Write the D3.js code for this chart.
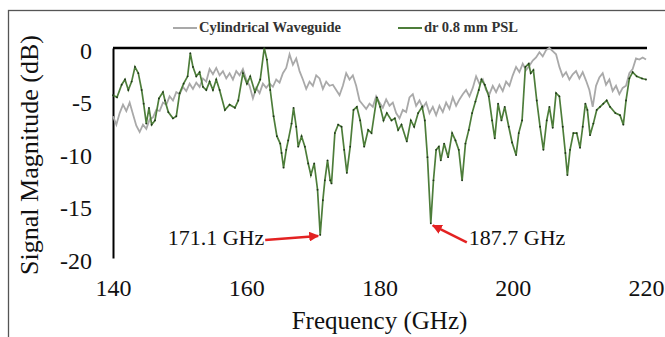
<!DOCTYPE html>
<html>
<head>
<meta charset="utf-8">
<script src="https://cdn.jsdelivr.net/npm/d3@7"></script>
<style>
  body { margin: 0; background: #fff; }
  svg { display: block; }
  svg text { font-family: 'Liberation Serif', 'DejaVu Serif', serif; }
</style>
</head>
<body>
<svg class="chart" width="665" height="337"></svg>
<script>
const seriesNames = ['Cylindrical Waveguide', 'dr 0.8 mm PSL'];
const xTicks = [140, 160, 180, 200, 220];
const yTicks = [0, -5, -10, -15, -20];
const annotations = [
  { label: '171.1 GHz', f: 171.1, db: -17.8 },
  { label: '187.7 GHz', f: 187.7, db: -16.7 }
];

// [frequency GHz, magnitude dB]
const waveguide = [
  [140.0, -6.5], [140.5, -7.3], [141.0, -6.2], [141.5, -5.4], [142.0, -6.0], [142.5, -5.2],
  [143.0, -6.3], [143.5, -7.4], [144.0, -8.0], [144.5, -7.3], [145.0, -7.7], [145.5, -6.8],
  [146.0, -6.6], [146.5, -5.9], [147.0, -6.0], [147.5, -5.2], [148.0, -5.4], [148.5, -4.6],
  [149.0, -5.0], [149.5, -4.2], [150.0, -4.4], [150.5, -3.7], [151.0, -4.1], [151.5, -3.4],
  [152.0, -3.9], [152.5, -3.3], [153.0, -3.7], [153.5, -2.9], [154.0, -3.2], [154.5, -2.0],
  [155.0, -2.5], [155.5, -1.9], [156.0, -2.6], [156.5, -2.2], [157.0, -2.9], [157.5, -2.4],
  [158.0, -3.0], [158.5, -2.2], [159.0, -2.6], [159.5, -2.0], [160.0, -3.0], [160.5, -3.6],
  [161.0, -4.8], [161.5, -3.8], [162.0, -4.3], [162.5, -3.4], [163.0, -3.8], [163.5, -3.4],
  [164.0, -3.7], [164.5, -3.0], [165.0, -3.3], [165.5, -2.4], [166.0, -1.9], [166.5, -0.6],
  [167.0, -1.6], [167.5, -1.0], [168.0, -2.2], [168.5, -3.0], [169.0, -3.9], [169.5, -3.2],
  [170.0, -3.6], [170.5, -2.6], [171.0, -2.9], [171.5, -3.9], [172.0, -3.2], [172.5, -3.6],
  [173.0, -3.5], [173.5, -4.0], [174.0, -4.5], [174.5, -3.6], [175.0, -2.4], [175.5, -3.0],
  [176.0, -2.6], [176.5, -3.6], [177.0, -5.0], [177.5, -5.4], [178.0, -5.8], [178.5, -5.3],
  [179.0, -5.6], [179.5, -4.6], [180.0, -5.2], [180.5, -5.7], [181.0, -4.9], [181.5, -5.5],
  [182.0, -5.2], [182.5, -6.2], [183.0, -6.7], [183.5, -5.9], [184.0, -6.1], [184.5, -4.7],
  [185.0, -4.4], [185.5, -5.5], [186.0, -5.0], [186.5, -5.7], [187.0, -5.2], [187.5, -6.2],
  [188.0, -5.6], [188.5, -6.4], [189.0, -5.5], [189.5, -6.1], [190.0, -5.2], [190.5, -5.8],
  [191.0, -4.7], [191.5, -5.5], [192.0, -4.9], [192.5, -4.4], [193.0, -4.0], [193.5, -4.6],
  [194.0, -3.8], [194.5, -2.7], [195.0, -3.4], [195.5, -3.0], [196.0, -4.0], [196.5, -4.4],
  [197.0, -3.6], [197.5, -4.2], [198.0, -3.5], [198.5, -4.1], [199.0, -3.2], [199.5, -3.6],
  [200.0, -2.6], [200.5, -1.8], [201.0, -2.3], [201.5, -1.5], [202.0, -2.1], [202.5, -1.7],
  [203.0, -1.2], [203.5, -0.9], [204.0, -0.4], [204.5, -0.8], [205.0, -0.2], [205.5, 0.0],
  [206.0, -0.3], [206.5, -0.6], [207.0, -1.8], [207.5, -2.7], [208.0, -2.3], [208.5, -3.0],
  [209.0, -2.5], [209.5, -2.2], [210.0, -2.9], [210.5, -2.3], [211.0, -3.1], [211.5, -4.0],
  [212.0, -5.6], [212.5, -3.6], [213.0, -2.8], [213.5, -2.4], [214.0, -3.5], [214.5, -3.0],
  [215.0, -4.1], [215.5, -3.6], [216.0, -4.4], [216.5, -3.8], [217.0, -3.6], [217.5, -2.4],
  [218.0, -2.0], [218.5, -1.0], [219.0, -1.1], [219.5, -0.9], [220.0, -1.1]
];

const psl = [
  [140.0, -4.5], [140.6, -4.7], [141.3, -3.5], [141.8, -3.0], [142.3, -4.0], [142.8, -3.2],
  [143.3, -1.8], [143.8, -2.4], [144.3, -4.0], [144.6, -5.3], [145.0, -7.2], [145.4, -5.7],
  [145.8, -7.3], [146.3, -6.9], [146.9, -4.8], [147.5, -4.2], [147.8, -5.0], [148.3, -6.1],
  [149.0, -6.7], [149.5, -6.5], [150.0, -4.3], [150.6, -3.4], [151.2, -2.7], [151.6, -0.5],
  [152.0, -1.8], [152.5, -2.7], [153.0, -2.3], [153.5, -3.7], [154.0, -4.0], [154.5, -3.2],
  [155.0, -4.0], [155.5, -3.0], [156.0, -4.0], [156.8, -5.9], [157.5, -5.4], [158.3, -5.7],
  [158.8, -5.0], [159.5, -2.4], [160.1, -3.4], [160.6, -2.7], [161.3, -4.2], [162.1, -3.0],
  [162.7, 0.0], [163.1, -1.1], [163.6, -4.0], [164.1, -6.5], [164.6, -8.4], [165.1, -9.1],
  [165.3, -10.0], [165.6, -11.4], [166.0, -9.7], [166.3, -8.8], [166.8, -7.2], [167.1, -5.7],
  [167.5, -7.5], [167.8, -9.4], [168.3, -8.4], [168.8, -9.4], [169.3, -11.0], [169.7, -12.1],
  [170.2, -11.0], [170.7, -13.5], [171.1, -17.8], [171.5, -14.5], [171.8, -12.6], [172.2, -10.7],
  [172.6, -12.6], [172.8, -12.9], [173.3, -8.1], [173.8, -7.3], [174.3, -7.5], [174.7, -9.7],
  [175.1, -11.9], [175.6, -9.4], [176.1, -5.9], [176.6, -5.6], [177.1, -6.9], [177.7, -9.4],
  [178.3, -7.8], [178.8, -8.1], [179.6, -4.7], [180.1, -5.6], [180.6, -6.9], [181.1, -6.2],
  [181.8, -6.9], [182.3, -6.7], [182.8, -7.8], [183.3, -7.3], [184.1, -8.9], [184.7, -6.9],
  [185.2, -7.5], [185.8, -6.2], [186.4, -5.6], [186.8, -6.9], [187.2, -10.4], [187.7, -16.7],
  [188.1, -12.6], [188.5, -9.7], [188.9, -9.4], [189.2, -10.7], [189.7, -9.1], [190.3, -10.4],
  [190.9, -8.1], [191.4, -8.8], [191.9, -9.7], [192.4, -12.6], [192.9, -9.1], [193.4, -7.8],
  [193.9, -6.2], [194.4, -5.1], [194.9, -4.0], [195.3, -3.0], [195.8, -3.5], [196.4, -4.6],
  [196.9, -6.9], [197.3, -8.6], [197.8, -5.3], [198.3, -6.9], [198.8, -5.6], [199.4, -7.5],
  [199.9, -9.0], [200.5, -10.2], [200.9, -8.1], [201.4, -6.9], [201.9, -1.8], [202.4, -1.5],
  [202.7, -2.4], [203.1, -2.1], [203.6, -5.0], [204.1, -7.5], [204.6, -9.7], [205.1, -6.9],
  [205.5, -5.6], [206.0, -7.6], [206.5, -4.3], [207.0, -4.6], [207.5, -7.5], [207.9, -10.0],
  [208.2, -12.1], [208.6, -9.7], [209.1, -8.1], [209.6, -8.1], [210.1, -9.5], [210.5, -7.5],
  [210.9, -5.3], [211.2, -5.9], [211.6, -8.3], [212.1, -7.2], [212.6, -5.9], [213.1, -5.6],
  [213.6, -5.3], [214.1, -5.0], [214.6, -5.6], [215.4, -6.2], [216.1, -6.4], [216.6, -7.3],
  [217.0, -5.0], [217.5, -2.9], [218.0, -2.3], [218.6, -2.7], [219.4, -2.9], [220.0, -3.0]
];

const margin = {top: 48, right: 19, bottom: 79, left: 113},
  width = 665 - margin.left - margin.right,
  height = 337 - margin.top - margin.bottom;

const svg = d3.select('.chart');

// image frame
svg.append('rect')
  .attr('x', 8.5).attr('y', 10.5)
  .attr('width', 700).attr('height', 400)
  .attr('fill', 'none')
  .attr('stroke', '#555')
  .attr('stroke-width', 1.3);

const chart = svg.append('g')
  .attr('transform', 'translate(' + margin.left + ',' + margin.top + ')');

const x = d3.scaleLinear().domain([140, 220]).range([0, width]);
const y = d3.scaleLinear().domain([-20, 0]).range([height, 0]);

const xAxis = d3.axisBottom(x).tickValues(xTicks).tickSize(0).tickPadding(21).tickFormat(d3.format('d'));
const yAxis = d3.axisLeft(y).tickValues(yTicks).tickSize(0).tickPadding(21).tickFormat(d => String(d));

chart.append('g')
  .attr('class', 'x axis')
  .attr('transform', 'translate(0,' + height + ')')
  .call(xAxis)
  .call(g => g.select('.domain').remove());

chart.append('g')
  .attr('class', 'y axis')
  .call(yAxis)
  .call(g => g.select('.domain').attr('stroke', '#000').attr('stroke-width', 2));

chart.selectAll('.axis').attr('font-family', null).attr('font-size', null);
chart.selectAll('.axis text')
  .attr('fill', '#111')
  .style('font-size', '24px');
chart.selectAll('.y.axis text').attr('dy', '0.42em');

// 0 dB line across the top
chart.append('line')
  .attr('x1', 0).attr('x2', x(220) + 1)
  .attr('y1', y(0)).attr('y2', y(0))
  .attr('stroke', '#000')
  .attr('stroke-width', 2.5);

const line = d3.line().x(d => x(d[0])).y(d => y(d[1]));

chart.append('path')
  .datum(waveguide)
  .attr('fill', 'none')
  .attr('stroke', '#a9a9a9')
  .attr('stroke-width', 1.8)
  .attr('d', line);

chart.append('path')
  .datum(psl)
  .attr('fill', 'none')
  .attr('stroke', '#4d7d3a')
  .attr('stroke-width', 1.7)
  .attr('d', line);

chart.selectAll('.dot')
  .data(psl)
  .enter().append('circle')
  .attr('class', 'dot')
  .attr('cx', d => x(d[0]))
  .attr('cy', d => y(d[1]))
  .attr('r', 0.9)
  .attr('fill', '#1e3318');

// annotations
const red = '#e32222';
const marker = svg.append('defs').append('marker')
  .attr('id', 'arrow')
  .attr('viewBox', '0 0 10 10')
  .attr('refX', 9).attr('refY', 5)
  .attr('markerWidth', 4).attr('markerHeight', 4)
  .attr('orient', 'auto');
marker.append('path').attr('d', 'M0,0L10,5L0,10z').attr('fill', red);

const a1 = annotations[0], a2 = annotations[1];
chart.append('line')
  .attr('x1', x(a1.f) - 55).attr('y1', y(a1.db) + 5)
  .attr('x2', x(a1.f) - 2).attr('y2', y(a1.db) + 1)
  .attr('stroke', red).attr('stroke-width', 2.5)
  .attr('marker-end', 'url(#arrow)');
chart.append('text')
  .attr('x', x(a1.f) - 56).attr('y', y(a1.db) + 10)
  .attr('text-anchor', 'end')
  .style('font-size', '22px')
  .attr('fill', '#111')
  .text(a1.label);

chart.append('line')
  .attr('x1', x(a2.f) + 36).attr('y1', y(a2.db) + 19)
  .attr('x2', x(a2.f) + 2).attr('y2', y(a2.db) + 2)
  .attr('stroke', red).attr('stroke-width', 2.5)
  .attr('marker-end', 'url(#arrow)');
chart.append('text')
  .attr('x', x(a2.f) + 38).attr('y', y(a2.db) + 22)
  .style('font-size', '22px')
  .attr('fill', '#111')
  .text(a2.label);

// axis titles
svg.append('text')
  .attr('x', margin.left + x(180))
  .attr('y', 329)
  .attr('text-anchor', 'middle')
  .style('font-size', '25px')
  .attr('fill', '#111')
  .text('Frequency (GHz)');

svg.append('text')
  .attr('transform', 'translate(38,155) rotate(-90)')
  .attr('text-anchor', 'middle')
  .style('font-size', '26px')
  .attr('fill', '#111')
  .text('Signal Magnitude (dB)');

// legend
const legend = svg.append('g').attr('class', 'legend');
const legendX = [173, 398];
const legendColors = ['#a9a9a9', '#4d7d3a'];
seriesNames.forEach((name, i) => {
  legend.append('line')
    .attr('x1', legendX[i]).attr('x2', legendX[i] + 24)
    .attr('y1', 28).attr('y2', 28)
    .attr('stroke', legendColors[i])
    .attr('stroke-width', 2);
  legend.append('text')
    .attr('x', legendX[i] + 26)
    .attr('y', 32)
    .style('font-size', '14.5px')
    .style('font-weight', 'bold')
    .attr('fill', '#333')
    .text(name);
});
</script>
</body>
</html>
